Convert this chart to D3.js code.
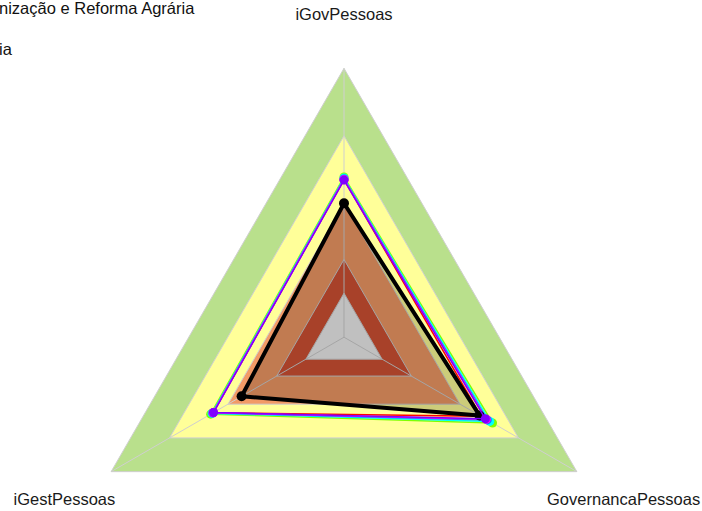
<!DOCTYPE html>
<html><head><meta charset="utf-8">
<script src="https://cdn.jsdelivr.net/npm/d3@7"></script>
<style>body{margin:0;background:#fff;overflow:hidden}svg{display:block;font-family:"Liberation Sans",Arial,sans-serif}</style>
</head><body><svg id="chart" width="702" height="511"></svg>
<script>
// ---- data ----
const axes = ["iGovPessoas", "GovernancaPessoas", "iGestPessoas"];
const seriesNames = [
  "Série 1",
  "Série 2",
  "Série 3",
  "Série 4",
  "Série 5",
  "Instituto Nacional de Colonização e Reforma Agrária",
  "Instituto Federal de Brasília"
];
const legendNames = ["Instituto Nacional de Colonização e Reforma Agrária", "Instituto Federal de Brasília"];
const seriesColors = ["#FF0000", "#80FF00", "#00FFFF", "#0080FF", "#FF00FF", "#000000", "#8000FF"];
const iGovValues  = [0.505, 0.517, 0.512, 0.508, 0.506, 0.40, 0.503];
const govValues   = [0.508, 0.567, 0.553, 0.540, 0.535, 0.50, 0.530];
const iGestValues = [0.475, 0.489, 0.482, 0.478, 0.477, 0.33, 0.474];
const bandLimits = [0, 0.15, 0.40, 0.70, 1.00];
const bandColors = ["#F0F0F0", "#D25234", "#F29A66", "#FFFF99", "#B9E08C"];
const highlighted = "Instituto Nacional de Colonização e Reforma Agrária";

// ---- layout ----
const svg = d3.select("#chart");
const cx = 344, cy = 337.2;
const r = d3.scaleLinear().domain([0, 1]).range([44, 268.9]);
const ang = i => i * 2 * Math.PI / axes.length;
const g = svg.append("g").attr("transform", `translate(${cx},${cy})`);

const radial = d3.lineRadial()
  .angle((d, i) => ang(i))
  .radius(d => r(d))
  .curve(d3.curveLinearClosed);

// bands, largest first
const bandsDesc = bandLimits.map((v, i) => ({v, c: bandColors[i]})).reverse();
g.selectAll("path.band").data(bandsDesc).join("path")
  .attr("class", "band")
  .attr("d", d => radial(axes.map(() => d.v)))
  .attr("fill", d => d.c)
  .attr("stroke", "#cfcfcf")
  .attr("stroke-width", 1);

// axis lines
g.selectAll("line.axis").data(axes).join("line")
  .attr("class", "axis")
  .attr("x1", 0).attr("y1", 0)
  .attr("x2", (d, i) => r(1) * Math.sin(ang(i)))
  .attr("y2", (d, i) => -r(1) * Math.cos(ang(i)))
  .attr("stroke", "#cfcfcf").attr("stroke-width", 1);

// axis labels
g.selectAll("text.lbl").data(axes).join("text")
  .attr("class", "lbl")
  .attr("x", (d, i) => (r(1) + 54) * Math.sin(ang(i)))
  .attr("y", (d, i) => -(r(1) + 54) * Math.cos(ang(i)))
  .attr("text-anchor", "middle")
  .attr("dominant-baseline", "central")
  .attr("font-size", 16.5)
  .attr("fill", "#1a1a1a")
  .text(d => d);

// series
const series = seriesNames.map((name, i) => ({
  name, color: seriesColors[i],
  vals: [iGovValues[i], govValues[i], iGestValues[i]]
}));
series.forEach(s => {
  const hl = s.name === highlighted;
  const sg = g.append("g");
  sg.append("path")
    .attr("d", radial(s.vals))
    .attr("fill", hl ? "rgba(0,0,0,0.2)" : "none")
    .attr("stroke", s.color)
    .attr("stroke-width", hl ? 4 : 1.5)
    .attr("stroke-linejoin", "round");
  sg.selectAll("circle").data(s.vals).join("circle")
    .attr("cx", (d, i) => r(d) * Math.sin(ang(i)))
    .attr("cy", (d, i) => -r(d) * Math.cos(ang(i)))
    .attr("r", hl ? 5 : 4.5)
    .attr("fill", s.color);
});

// legend (partly outside the left edge, as in the reference)
svg.append("g").selectAll("text").data(legendNames).join("text")
  .attr("x", -189)
  .attr("y", (d, i) => 13.5 + 41.5 * i)
  .attr("font-size", 16.5)
  .attr("fill", "#111")
  .text(d => d);
</script></body></html>
